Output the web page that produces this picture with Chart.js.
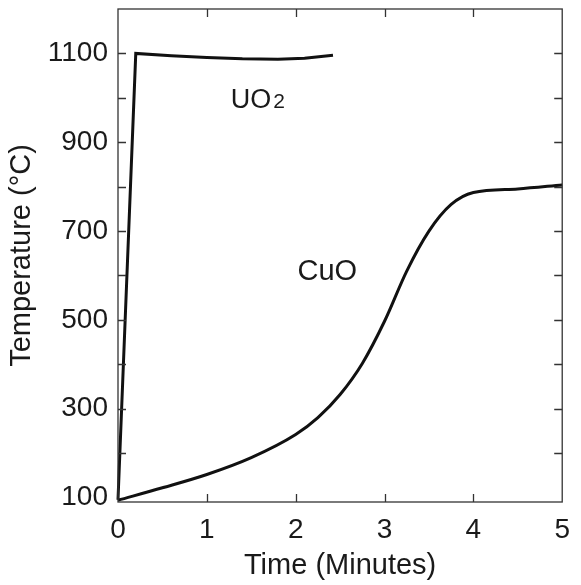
<!DOCTYPE html>
<html>
<head>
<meta charset="utf-8">
<script src="https://cdn.jsdelivr.net/npm/chart.js@4"></script>
<style>
  html, body { margin: 0; padding: 0; background: #fff; }
  #wrap { width: 581px; height: 585px; position: relative; }
</style>
</head>
<body>
<div id="wrap"><canvas id="canvas"></canvas></div>
<script>
"use strict";

// values (time in minutes, temperature in °C)
const uo2Time = [0, 0.2, 0.6, 1.0, 1.4, 1.8, 2.1, 2.42];
const uo2Temp = [95, 1100, 1095, 1091, 1088, 1087, 1089, 1096];

const cuoTime = [0, 0.5, 1.0, 1.5, 2.0, 2.25, 2.5, 2.75, 3.0, 3.25, 3.5, 3.75, 4.0, 4.5, 5.0];
const cuoTemp = [94, 122, 152, 190, 242, 280, 332, 402, 497, 610, 700, 760, 787, 795, 804];

const xTicks = [0, 1, 2, 3, 4, 5];
const yLabels = [100, 300, 500, 700, 900, 1100];
const yMinor = [200, 300, 400, 500, 600, 700, 800, 900, 1000, 1100];

// where the two series names sit, in data units
const seriesLabels = [
    { text: 'UO', sub: '2', x: 1.27, y: 995, size: 27 },
    { text: 'CuO', sub: '', x: 2.02, y: 608, size: 29 }
];

const FONT = '"Liberation Sans", Arial, sans-serif';
const INK = '#1a1a1a';

function toPoints(xs, ys) {
    return xs.map((x, i) => ({ x: x, y: ys[i] }));
}

// frame, inward ticks on all four sides and the series names
const framePlugin = {
    id: 'frame',
    afterDatasetsDraw(chart) {
        let ctx = chart.ctx;
        let a = chart.chartArea;
        let x = chart.scales.x;
        let y = chart.scales.y;
        let len = 8;
        ctx.save();
        ctx.strokeStyle = '#333';
        ctx.lineWidth = 1.3;
        ctx.strokeRect(a.left, a.top, a.right - a.left, a.bottom - a.top);
        ctx.beginPath();
        xTicks.slice(1, -1).forEach(v => {
            let px = Math.round(x.getPixelForValue(v)) + 0.5;
            ctx.moveTo(px, a.bottom); ctx.lineTo(px, a.bottom - len);
            ctx.moveTo(px, a.top); ctx.lineTo(px, a.top + len);
        });
        yMinor.forEach(v => {
            let py = Math.round(y.getPixelForValue(v)) + 0.5;
            ctx.moveTo(a.left, py); ctx.lineTo(a.left + len, py);
            ctx.moveTo(a.right, py); ctx.lineTo(a.right - len, py);
        });
        ctx.stroke();

        ctx.fillStyle = INK;
        ctx.textBaseline = 'middle';
        ctx.textAlign = 'left';
        seriesLabels.forEach(l => {
            let px = x.getPixelForValue(l.x);
            let py = y.getPixelForValue(l.y);
            ctx.font = l.size + 'px ' + FONT;
            ctx.fillText(l.text, px, py);
            if (l.sub) {
                let w = ctx.measureText(l.text).width;
                ctx.font = '21px ' + FONT;
                ctx.fillText(l.sub, px + w + 2, py + 2);
            }
        });
        ctx.restore();
    }
};

window.addEventListener('DOMContentLoaded', () => {
    let ctx = document.getElementById('canvas').getContext('2d');
    new Chart(ctx, {
        type: 'line',
        data: {
            datasets: [{
                label: 'UO2',
                data: toPoints(uo2Time, uo2Temp),
                borderColor: '#111',
                borderWidth: 3,
                pointRadius: 0,
                tension: 0,
                clip: 4
            }, {
                label: 'CuO',
                data: toPoints(cuoTime, cuoTemp),
                borderColor: '#111',
                borderWidth: 3,
                pointRadius: 0,
                cubicInterpolationMode: 'monotone',
                clip: 4
            }]
        },
        plugins: [framePlugin],
        options: {
            responsive: true,
            maintainAspectRatio: false,
            animation: false,
            layout: { padding: { left: 0, right: 14, top: 9, bottom: 0 } },
            plugins: {
                legend: { display: false },
                tooltip: { enabled: false }
            },
            scales: {
                x: {
                    type: 'linear',
                    min: 0,
                    max: 5,
                    afterBuildTicks: scale => { scale.ticks = xTicks.map(v => ({ value: v })); },
                    afterFit: scale => { scale.height = 83; },
                    grid: { display: false, drawTicks: false },
                    border: { display: false },
                    ticks: {
                        padding: 11,
                        color: INK,
                        font: { family: FONT, size: 28 },
                        maxRotation: 0,
                        callback: v => String(v)
                    },
                    title: {
                        display: true,
                        text: 'Time (Minutes)',
                        color: INK,
                        font: { family: FONT, size: 29 },
                        padding: { top: 0, bottom: 2 }
                    }
                },
                y: {
                    type: 'linear',
                    min: 90,
                    max: 1200,
                    afterBuildTicks: scale => { scale.ticks = yLabels.map(v => ({ value: v })); },
                    afterFit: scale => {
                        scale.width = 118;
                        scale.paddingTop = 0;
                        scale.paddingBottom = 0;
                    },
                    grid: { display: false, drawTicks: false },
                    border: { display: false },
                    ticks: {
                        padding: 10,
                        color: INK,
                        font: { family: FONT, size: 28 },
                        callback: v => String(v)
                    },
                    title: {
                        display: true,
                        text: 'Temperature (°C)',
                        color: INK,
                        font: { family: FONT, size: 29 },
                        padding: { top: 5, bottom: 0 }
                    }
                }
            }
        }
    });
});
</script>
</body>
</html>
